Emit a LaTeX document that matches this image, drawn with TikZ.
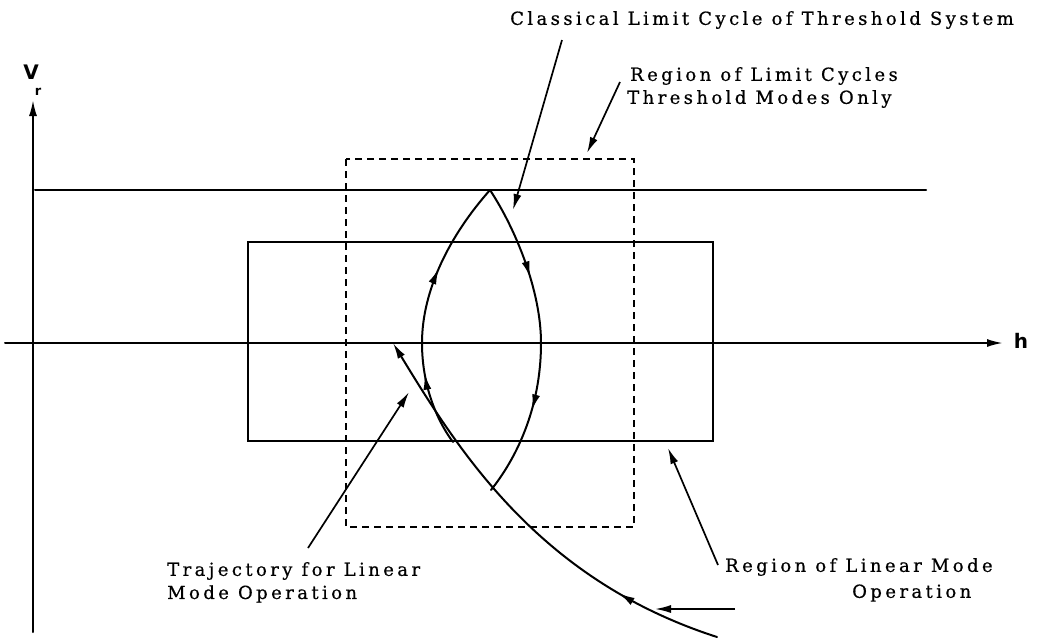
\documentclass[tikz,border=0pt]{standalone}
\usepackage{fontspec}
\setmainfont{DejaVu Serif}[LetterSpace=19, FakeBold=0.6]
\newfontfamily\axisfont{DejaVu Sans}
\usetikzlibrary{arrows.meta,decorations.markings}
\tikzset{
  ln/.style={line width=2pt, line cap=round},
  thin ln/.style={line width=1.7pt},
  dsh/.style={line width=1.5pt, dash pattern=on 7pt off 5pt},
  tip/.style={-{Latex[length=16pt,width=8pt]}},
  lbl/.style={font=\fontsize{18}{21}\selectfont, inner sep=0pt, anchor=west},
  axl/.style={font=\axisfont\bfseries\fontsize{20}{22}\selectfont, inner sep=0pt},
  midarrows/.style 2 args={postaction={decorate},
    decoration={markings,
      mark=at position #1 with {\arrow{Latex[length=16pt,width=8pt]}},
      mark=at position #2 with {\arrow{Latex[length=16pt,width=8pt]}}}},
  onearrow/.style={postaction={decorate},
    decoration={markings,
      mark=at position #1 with {\arrow{Latex[length=16pt,width=8pt]}}}}
}
\begin{document}
\begin{tikzpicture}[x=1pt,y=-1pt]
\useasboundingbox (0,0) rectangle (1042,643);
% coordinates
\coordinate (vb) at (33,632);
\coordinate (vt) at (33,100);
\coordinate (hl) at (5,343);
\coordinate (hr) at (1003,343);
\coordinate (ul) at (35,190);
\coordinate (ur) at (926,190);
\coordinate (r1) at (248,242);
\coordinate (r2) at (713,441);
\coordinate (d1) at (346,159);
\coordinate (d2) at (634,527);
\coordinate (top) at (490,190);
\coordinate (lmid) at (422,343);
\coordinate (lbot) at (453,442);
\coordinate (rmid) at (541,343);
\coordinate (rbot) at (491,490);
\coordinate (ts) at (717,637);
\coordinate (te) at (393,343);
\coordinate (ha1) at (735,609);
\coordinate (ha2) at (655,609);
% axes
\draw[ln, tip] (vb) -- (vt);
\draw[ln, tip] (hl) -- (hr);
\node[axl] (V) at (31,72) {V};
\node[axl, font=\axisfont\bfseries\fontsize{13}{15}\selectfont] (Vsub) at (38,92) {r};
\node[axl] (h) at (1021,341) {h};
% upper line
\draw[ln] (ul) -- (ur);
% rectangles
\draw[ln] (r1) rectangle (r2);
\draw[dsh] (d1) rectangle (d2);
% lens
\draw[ln, midarrows={0.27}{0.66}] (lbot) .. controls (440,425) and (422,390) .. (lmid)
   .. controls (422,290) and (450,235) .. (top);
\draw[ln, midarrows={0.30}{0.72}] (top) .. controls (515,228) and (541,290) .. (rmid)
   .. controls (541,410) and (515,460) .. (rbot);
% trajectory
\draw[ln, tip, onearrow=0.24] (ts) .. controls (540,580) and (460,453) .. (te);
\draw[thin ln, tip] (ha1) -- (ha2);
% labels
\node[lbl] (t1) at (510,20) {Classical Limit Cycle of Threshold System};
\node[lbl] (t2a) at (630,76) {Region of Limit Cycles};
\node[lbl] (t2b) at (627,99) {Threshold Modes Only};
\node[lbl] (t3a) at (167,571) {Trajectory for Linear};
\node[lbl] (t3b) at (167,594) {Mode Operation};
\node[lbl] (t4a) at (725,567) {Region of Linear Mode};
\node[lbl] (t4b) at (852,593) {Operation};
% leaders
\coordinate (p1s) at (562,40);
\coordinate (p1e) at (513,210);
\coordinate (p2s) at (620,82);
\coordinate (p2e) at (587,153);
\coordinate (p3s) at (308,548);
\coordinate (p3e) at (409,392);
\coordinate (p4s) at (718,565);
\coordinate (p4e) at (668,448);
\draw[thin ln, tip] (p1s) -- (p1e);
\draw[thin ln, tip] (p2s) -- (p2e);
\draw[thin ln, tip] (p3s) -- (p3e);
\draw[thin ln, tip] (p4s) -- (p4e);
\end{tikzpicture}
\end{document}
